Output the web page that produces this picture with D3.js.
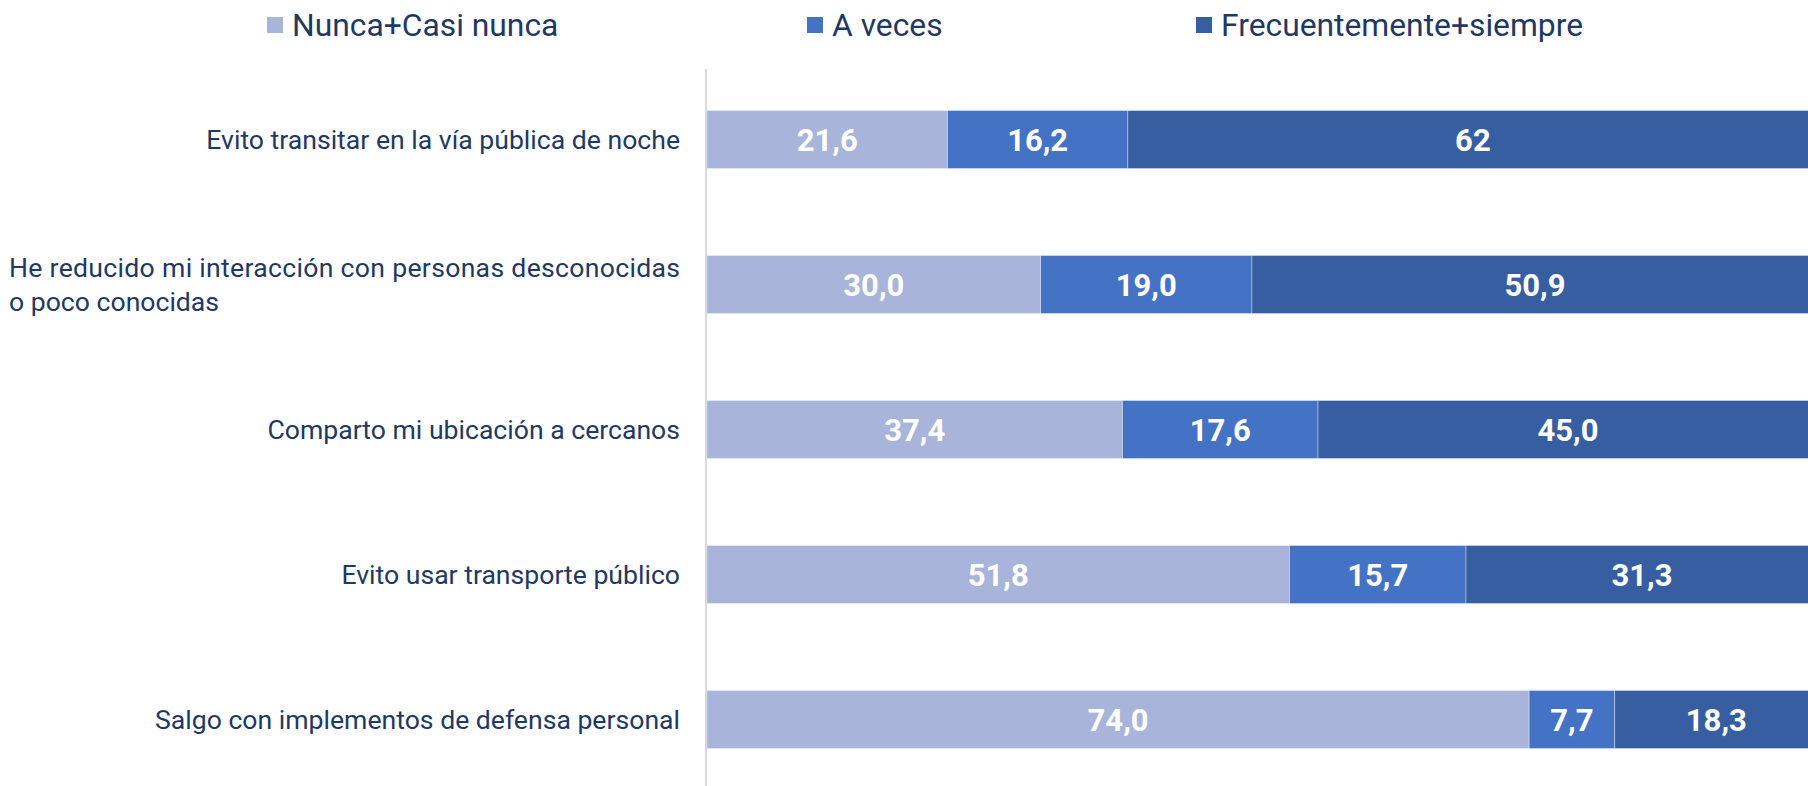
<!DOCTYPE html>
<html>
<head>
<meta charset="utf-8">
<script src="https://cdn.jsdelivr.net/npm/d3@7"></script>
<style>
  body { margin:0; background:#fff; overflow:hidden; }
  svg { display:block; font-family:Roboto, "Noto Sans", sans-serif; }
</style>
</head>
<body>
<div id="chart"></div>
<script>

//**************************************************************************
//** Data
//**************************************************************************
var categories = [
    ["Evito transitar en la vía pública de noche"],
    ["He reducido mi interacción con personas desconocidas", "o poco conocidas"],
    ["Comparto mi ubicación a cercanos"],
    ["Evito usar transporte público"],
    ["Salgo con implementos de defensa personal"]
];
var seriesNames = ["Nunca+Casi nunca", "A veces", "Frecuentemente+siempre"];
var nunca      = [21.6, 30.0, 37.4, 51.8, 74.0];
var aVeces     = [16.2, 19.0, 17.6, 15.7, 7.7];
var frecuente  = [62.0, 50.9, 45.0, 31.3, 18.3];
var nuncaLabels     = ["21,6", "30,0", "37,4", "51,8", "74,0"];
var aVecesLabels    = ["16,2", "19,0", "17,6", "15,7", "7,7"];
var frecuenteLabels = ["62", "50,9", "45,0", "31,3", "18,3"];

var colors = ["#a8b4d9", "#4472c4", "#365ea1"];
var textColor = "#1f3864";


//**************************************************************************
//** Chart
//**************************************************************************
var width = 1808, height = 786;
var margin = {top: 69, left: 707};
var plotWidth = 1111;   //100% runs a bit past the right edge

var svg = d3.select("#chart").append("svg")
    .attr("width", width)
    .attr("height", height);

var series = [nunca, aVeces, frecuente];
var labels = [nuncaLabels, aVecesLabels, frecuenteLabels];

var rows = categories.map(function(c, i){
    var row = {index: i};
    seriesNames.forEach(function(s, j){ row[s] = series[j][i]; });
    return row;
});

//100% stacked bars
var stacked = d3.stack()
    .keys(seriesNames)
    .offset(d3.stackOffsetExpand)(rows);

var x = d3.scaleLinear().domain([0, 1]).range([margin.left, margin.left + plotWidth]);
var y = d3.scaleBand()
    .domain(d3.range(categories.length))
    .range([67, 792])
    .paddingInner(0.6)
    .paddingOuter(0.3);

//Bars
var groups = svg.selectAll("g.series")
    .data(stacked)
    .enter().append("g")
    .attr("class", "series")
    .attr("fill", function(d, i){ return colors[i]; });

groups.selectAll("rect")
    .data(function(d){ return d; })
    .enter().append("rect")
    .attr("x", function(d){ return x(d[0]); })
    .attr("y", function(d, i){ return y(i); })
    .attr("width", function(d){ return x(d[1]) - x(d[0]); })
    .attr("height", y.bandwidth())
    .attr("stroke", "rgba(255,255,255,0.35)")
    .attr("stroke-width", 1);

//Value labels
groups.each(function(s, k){
    d3.select(this).selectAll("text")
    .data(s)
    .enter().append("text")
    .attr("x", function(d){ return (x(d[0]) + x(d[1])) / 2; })
    .attr("y", function(d, i){ return y(i) + y.bandwidth()/2; })
    .attr("dy", "0.36em")
    .attr("text-anchor", "middle")
    .attr("fill", "#fff")
    .style("font-size", "31px")
    .style("font-weight", "bold")
    .text(function(d, i){ return labels[k][i]; });
});

//Axis line
svg.append("line")
    .attr("x1", margin.left - 1).attr("x2", margin.left - 1)
    .attr("y1", margin.top).attr("y2", height)
    .attr("stroke", "#d9d9d9")
    .attr("stroke-width", 2);

//Category labels
categories.forEach(function(lines, i){
    var cy = y(i) + y.bandwidth()/2;
    var lh = 34;
    var t = svg.append("text")
        .attr("fill", textColor)
        .style("font-size", "26.6px");
    if (lines.length === 1){
        t.attr("x", 680).attr("y", cy).attr("dy", "0.36em")
         .attr("text-anchor", "end").text(lines[0]);
    }
    else{
        lines.forEach(function(line, j){
            var ts = t.append("tspan")
             .attr("x", 9)
             .attr("y", cy + (j - (lines.length-1)/2) * lh)
             .attr("dy", "0.36em")
             .text(line);
            //first line of a wrapped label fills the label column
            if (j < lines.length-1) ts.attr("textLength", 671).attr("lengthAdjust", "spacing");
        });
    }
});

//Legend
var legendX = [267, 807, 1196];
var legend = svg.selectAll("g.legend")
    .data(seriesNames)
    .enter().append("g")
    .attr("class", "legend")
    .attr("transform", function(d, i){ return "translate(" + legendX[i] + ",25)"; });

legend.append("rect")
    .attr("x", 0).attr("y", -8)
    .attr("width", 16).attr("height", 16)
    .attr("fill", function(d, i){ return colors[i]; });

legend.append("text")
    .attr("x", 25)
    .attr("dy", "0.36em")
    .attr("fill", textColor)
    .style("font-size", "31.8px")
    .text(function(d){ return d; });

</script>
</body>
</html>
